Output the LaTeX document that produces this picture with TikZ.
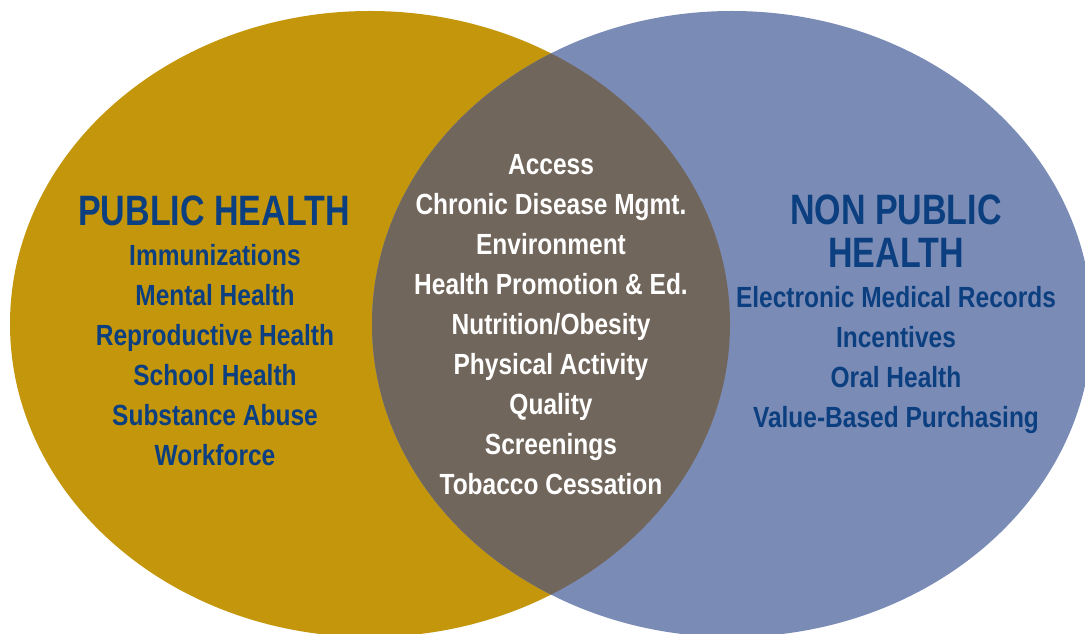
\documentclass[tikz,border=0pt]{standalone}
\usepackage{fontspec}
\setmainfont{Liberation Sans}[FakeStretch=0.84]
\newfontfamily\headfont{Liberation Sans}[FakeStretch=0.80]
\usepackage{tikz}
\usetikzlibrary{positioning}
\definecolor{phgold}{HTML}{C4960C}
\definecolor{npblue}{HTML}{7A8BB6}
\definecolor{bothgray}{HTML}{71665B}
\definecolor{navy}{HTML}{0B3F7F}
\tikzset{
  headtext/.style={font=\headfont\bfseries\fontsize{24.2}{28}\selectfont, text=navy, anchor=base, inner sep=0pt},
  itemtext/.style={font=\bfseries\fontsize{16.6}{20}\selectfont, text=navy, anchor=base, inner sep=0pt},
  midtext/.style={itemtext, text=white}
}

\begin{document}
\begin{tikzpicture}[x=0.02cm,y=-0.02cm]
  \useasboundingbox (0,0) rectangle (1085,634);
  \clip (0,0) rectangle (1085,634);
  \fill[phgold] (370,324) ellipse (360 and 313);
  \fill[npblue] (732,324) ellipse (360 and 313);
  \begin{scope}
    \clip (370,324) ellipse (360 and 313);
    \fill[bothgray] (732,324) ellipse (360 and 313);
  \end{scope}
  % left circle
  \node[headtext] (pubhead) at (214,226) {PUBLIC HEALTH};
  \foreach \txt [count=\i] in {Immunizations,Mental Health,Reproductive Health,School Health,Substance Abuse,Workforce}
    \node[itemtext] (pub\i) at (215,226+40*\i) {\txt};
  % overlap
  \foreach \txt [count=\i] in {Access,Chronic Disease Mgmt.,Environment,Health Promotion \& Ed.,Nutrition/Obesity,Physical Activity,Quality,Screenings,Tobacco Cessation}
    \node[midtext] (both\i) at (551,135+40*\i) {\txt};
  % right circle
  \node[headtext] (nonhead) at (896,225) {NON PUBLIC};
  \node[headtext] (nonhead2) at (896,268) {HEALTH};
  \foreach \txt [count=\i] in {Electronic Medical Records,Incentives,Oral Health,Value-Based Purchasing}
    \node[itemtext] (non\i) at (896,268+40*\i) {\txt};
\end{tikzpicture}
\end{document}
